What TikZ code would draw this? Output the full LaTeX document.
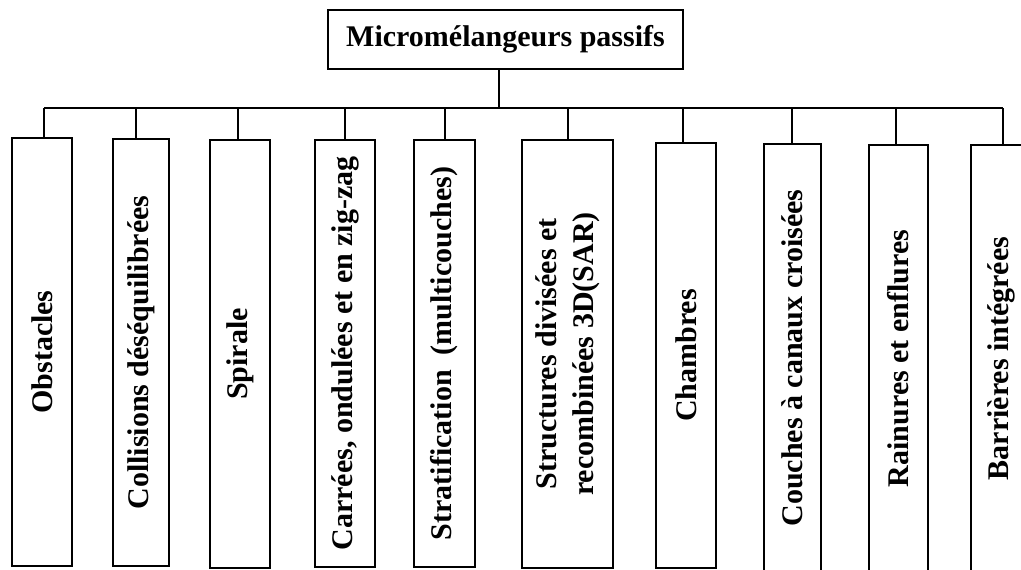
\documentclass[tikz,border=0pt]{standalone}
\usepackage{fontspec}
\setmainfont{Liberation Serif}
\begin{document}
\begin{tikzpicture}[x=1pt,y=-1pt,line width=1.5pt,font=\fontsize{30}{37}\selectfont\bfseries,
		head/.style={draw,inner sep=0pt,minimum width=355pt,minimum height=59pt},
		leaf/.style={draw,rotate=90,inner sep=0pt,align=center}]
	\path[use as bounding box,clip] (0,0) rectangle (1021,570);
	\node[head] (0) at (505.5,39.5) {Micromélangeurs passifs};
	\node[leaf,minimum width=428pt,minimum height=60pt] (1) at (42,352) {Obstacles};
	\node[leaf,minimum width=427pt,minimum height=56pt] (2) at (141,352.5) {Collisions déséquilibrées};
	\node[leaf,minimum width=428pt,minimum height=60pt] (3) at (240,354) {Spirale};
	\node[leaf,minimum width=427pt,minimum height=60pt] (4) at (345,353.5) {Carrées, ondulées et en zig-zag};
	\node[leaf,minimum width=427pt,minimum height=61pt] (5) at (444.5,353.5) {Stratification\ \ (multicouches)};
	\node[leaf,minimum width=428pt,minimum height=91pt] (6) at (567.5,354) {Structures divisées et\\recombinées 3D(SAR)};
	\node[leaf,minimum width=425pt,minimum height=60pt] (7) at (686,355.5) {Chambres};
	\node[leaf,minimum width=428pt,minimum height=57pt] (8) at (792.5,358) {Couches à canaux croisées};
	\node[leaf,minimum width=427pt,minimum height=59pt] (9) at (898.5,358.5) {Rainures et enflures};
	\node[leaf,minimum width=427pt,minimum height=60pt] (10) at (1001,358.5) {Barrières intégrées};
	\foreach \n/\x in {1/44,2/136,3/238,4/345,5/445,6/568,7/683,8/792,9/896,10/1003}{
		\coordinate (j\n) at (\x,108);
		\draw (j\n) -- (j\n |- \n.east);
	}
	\coordinate (s) at (499,108);
	\draw (j1) -- (j10);
	\draw (s |- 0.south) -- (s);
\end{tikzpicture}
\end{document}
